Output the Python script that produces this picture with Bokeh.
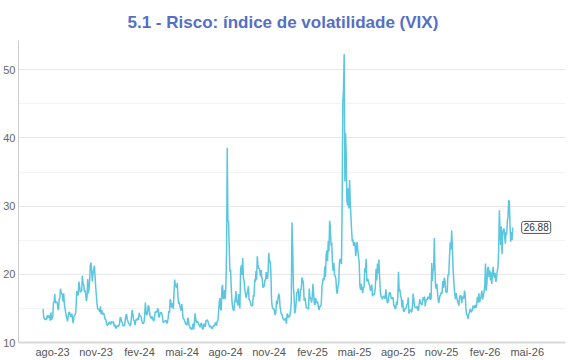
import pandas as pd
from bokeh.plotting import figure
from bokeh.models import Range1d, FixedTicker, SingleIntervalTicker, Label, ColumnDataSource
from bokeh.embed import file_html
from bokeh.resources import INLINE

title_text = "5.1 - Risco: índice de volatilidade (VIX)"
first_day = "2023-07-10"
last_day = "2026-03-31"

months = ["2023-07", "2023-08", "2023-09", "2023-10", "2023-11", "2023-12",
          "2024-01", "2024-02", "2024-03", "2024-04", "2024-05", "2024-06",
          "2024-07", "2024-08", "2024-09", "2024-10", "2024-11", "2024-12",
          "2025-01", "2025-02", "2025-03", "2025-04", "2025-05", "2025-06",
          "2025-07", "2025-08", "2025-09", "2025-10", "2025-11", "2025-12",
          "2026-01", "2026-02", "2026-03"]

vix_2023_07 = [14.84, 14.84, 13.54, 13.61, 13.34, 13.48, 13.30, 13.76, 13.99, 13.60, 13.91, 13.86, 13.19, 14.41, 13.33, 13.63]
vix_2023_08 = [13.93, 15.99, 15.92, 17.10, 15.77, 15.99, 15.96, 15.85, 14.84, 14.82, 16.46, 16.46, 17.89, 17.30, 17.13, 16.98, 15.98, 17.20, 15.68, 15.08, 14.45, 13.88, 13.57]
vix_2023_09 = [13.09, 14.00, 14.45, 14.40, 13.84, 13.80, 14.23, 13.48, 12.82, 13.79, 14.00, 14.11, 15.14, 17.54, 17.20, 16.90, 18.94, 18.22, 17.34, 17.52]
vix_2023_10 = [17.61, 19.78, 18.58, 18.49, 17.45, 17.70, 17.03, 16.09, 16.69, 19.32, 17.21, 17.88, 19.22, 21.40, 21.71, 20.37, 18.97, 20.19, 20.68, 21.27, 19.75, 18.14]
vix_2023_11 = [16.87, 15.66, 14.91, 14.89, 14.81, 14.45, 15.29, 14.17, 14.76, 14.16, 14.18, 14.32, 13.80, 13.41, 13.35, 12.85, 12.46, 12.69, 12.69, 12.98, 12.92]
vix_2023_12 = [12.63, 13.08, 12.85, 12.97, 13.06, 12.35, 12.63, 12.07, 12.19, 12.48, 12.28, 12.56, 12.53, 13.67, 13.65, 13.03, 12.99, 12.43, 12.47, 12.45]
vix_2024_01 = [13.20, 14.04, 14.13, 13.35, 13.08, 12.76, 12.69, 12.44, 12.70, 13.84, 14.79, 14.13, 13.30, 13.19, 12.55, 13.14, 13.45, 13.26, 13.60, 13.31, 14.35]
vix_2024_02 = [13.88, 13.85, 13.67, 13.06, 12.83, 12.79, 12.93, 13.93, 15.85, 14.38, 14.01, 14.24, 15.42, 15.34, 14.54, 13.75, 13.74, 13.43, 13.84, 13.40]
vix_2024_03 = [13.11, 13.49, 14.46, 14.50, 14.44, 14.74, 15.01, 13.75, 13.75, 14.40, 14.41, 14.33, 13.82, 12.92, 13.06, 13.06, 13.19, 13.24, 12.78, 13.01]
vix_2024_04 = [13.65, 14.61, 14.33, 16.35, 16.03, 15.19, 15.22, 15.80, 14.91, 17.31, 19.23, 18.40, 18.21, 18.00, 18.71, 16.94, 15.69, 15.97, 15.37, 15.03, 14.67, 15.65]
vix_2024_05 = [14.75, 13.49, 13.49, 13.23, 13.00, 12.69, 12.69, 12.55, 13.60, 13.42, 12.45, 12.42, 11.99, 12.15, 11.86, 12.29, 12.77, 11.93, 12.92, 14.28, 13.49, 12.92]
vix_2024_06 = [13.11, 13.06, 12.63, 12.58, 12.22, 12.74, 12.85, 12.04, 11.94, 12.66, 12.75, 12.30, 13.28, 13.20, 13.33, 12.84, 12.55, 12.24, 12.44]
vix_2024_07 = [12.22, 12.03, 12.09, 12.48, 12.37, 12.51, 12.85, 12.89, 12.46, 13.12, 13.19, 14.48, 15.93, 16.52, 14.91, 14.72, 18.04, 18.46, 16.39, 16.60, 17.69, 16.36]
vix_2024_08 = [18.59, 23.39, 38.57, 27.71, 27.85, 23.79, 20.37, 20.71, 18.12, 16.19, 15.23, 14.80, 14.65, 15.88, 16.27, 17.55, 15.86, 16.15, 15.43, 17.11, 15.65, 15.00]
vix_2024_09 = [20.72, 21.32, 19.90, 22.38, 19.45, 19.08, 17.69, 17.07, 16.56, 17.14, 17.61, 18.23, 16.33, 16.15, 15.89, 15.39, 15.41, 15.37, 16.96, 16.73]
vix_2024_10 = [19.26, 18.90, 20.49, 19.21, 22.64, 21.42, 20.86, 20.93, 20.46, 19.70, 20.64, 19.58, 19.11, 18.03, 18.37, 18.20, 19.24, 19.08, 20.33, 19.80, 19.34, 20.35, 23.16]
vix_2024_11 = [21.88, 21.98, 20.49, 16.27, 15.20, 14.94, 14.97, 14.71, 14.02, 14.31, 16.14, 15.58, 16.35, 17.16, 16.87, 15.24, 14.60, 14.10, 14.10, 13.51]
vix_2024_12 = [13.34, 13.30, 13.45, 13.54, 12.77, 14.19, 14.18, 13.58, 13.92, 13.81, 14.69, 15.87, 27.62, 24.09, 18.36, 16.78, 14.27, 14.73, 15.95, 17.40, 17.35]
vix_2025_01 = [17.93, 16.13, 16.04, 17.82, 17.70, 19.54, 19.19, 18.71, 16.12, 16.60, 15.97, 15.06, 15.10, 15.02, 14.85, 17.90, 16.41, 16.56, 15.84, 16.43]
vix_2025_02 = [18.62, 17.21, 15.77, 15.50, 16.54, 15.81, 16.02, 15.89, 15.10, 14.77, 15.35, 15.27, 15.66, 18.21, 18.98, 19.43, 19.10, 21.13, 19.63]
vix_2025_03 = [22.78, 23.51, 21.93, 24.87, 23.37, 27.86, 26.92, 24.23, 24.66, 21.77, 20.51, 21.70, 19.90, 19.80, 19.28, 17.48, 17.15, 18.33, 18.69, 21.65, 22.28]
vix_2025_04 = [21.77, 21.51, 30.02, 45.31, 46.98, 52.33, 33.62, 40.72, 37.56, 30.89, 30.12, 32.64, 29.65, 33.82, 30.57, 28.45, 26.47, 24.84, 25.15, 24.17, 24.70]
vix_2025_05 = [24.60, 22.68, 23.64, 24.76, 23.55, 22.48, 21.90, 18.39, 17.72, 18.62, 17.83, 17.24, 18.14, 18.09, 20.87, 20.28, 22.29, 18.96, 19.31, 19.18, 18.57]
vix_2025_06 = [18.36, 17.69, 17.61, 18.48, 16.77, 17.16, 16.95, 17.26, 18.02, 20.82, 19.11, 21.60, 20.14, 22.17, 19.83, 17.48, 16.76, 16.59, 16.32, 16.73]
vix_2025_07 = [16.83, 16.64, 16.38, 17.79, 16.81, 15.94, 15.78, 16.40, 17.20, 17.38, 17.16, 16.52, 16.41, 16.65, 16.50, 15.37, 15.39, 14.93, 15.03, 15.98, 15.48, 16.72]
vix_2025_08 = [20.38, 17.52, 17.85, 16.77, 16.57, 15.15, 16.25, 14.73, 14.49, 14.83, 15.09, 15.00, 15.57, 15.69, 16.60, 14.22, 14.79, 14.62, 14.85, 14.43, 15.36]
vix_2025_09 = [17.17, 16.35, 15.30, 15.18, 15.11, 15.04, 15.35, 14.71, 14.76, 15.69, 16.36, 15.72, 15.70, 15.45, 16.10, 16.64, 16.18, 16.74, 15.29, 16.12, 16.28]
vix_2025_10 = [16.29, 16.63, 16.65, 16.37, 17.24, 16.30, 16.43, 21.66, 19.03, 20.81, 20.64, 25.31, 20.78, 18.23, 17.87, 18.60, 17.30, 16.37, 15.79, 16.42, 16.92, 16.91, 17.44]
vix_2025_11 = [17.17, 19.00, 18.01, 19.50, 19.08, 17.60, 17.28, 17.51, 20.00, 19.83, 22.38, 24.69, 23.66, 26.42, 23.43, 20.52, 18.56, 17.19, 16.35]
vix_2025_12 = [17.24, 16.59, 16.08, 15.78, 15.41, 16.66, 16.93, 16.77, 15.77, 16.74, 16.50, 16.48, 17.62, 16.87, 14.91, 14.08, 14.00, 13.47, 14.20, 14.33, 14.95]
vix_2026_01 = [14.50, 14.50, 14.80, 15.40, 15.00, 15.20, 15.50, 15.10, 15.60, 16.70, 15.90, 17.20, 15.90, 16.40, 16.80, 17.60, 16.30, 16.90, 17.40, 18.10]
vix_2026_02 = [21.60, 17.60, 18.60, 20.80, 21.10, 19.60, 20.60, 19.10, 20.30, 18.60, 19.80, 21.10, 20.00, 19.50, 20.20, 18.90, 19.60, 20.50, 21.10]
vix_2026_03 = [23.80, 29.40, 26.50, 24.30, 27.00, 23.00, 26.00, 26.50, 26.70, 25.50, 24.50, 26.20, 25.80, 27.80, 28.50, 30.90, 30.60, 27.00, 24.80, 26.20, 25.00, 26.88]

month_values = [vix_2023_07, vix_2023_08, vix_2023_09, vix_2023_10, vix_2023_11, vix_2023_12,
                vix_2024_01, vix_2024_02, vix_2024_03, vix_2024_04, vix_2024_05, vix_2024_06,
                vix_2024_07, vix_2024_08, vix_2024_09, vix_2024_10, vix_2024_11, vix_2024_12,
                vix_2025_01, vix_2025_02, vix_2025_03, vix_2025_04, vix_2025_05, vix_2025_06,
                vix_2025_07, vix_2025_08, vix_2025_09, vix_2025_10, vix_2025_11, vix_2025_12,
                vix_2026_01, vix_2026_02, vix_2026_03]

tick_dates = ["2023-08-01", "2023-11-01", "2024-02-01", "2024-05-01", "2024-08-01", "2024-11-01",
              "2025-02-01", "2025-05-01", "2025-08-01", "2025-11-01", "2026-02-01", "2026-05-01"]
tick_labels = ["ago-23", "nov-23", "fev-24", "mai-24", "ago-24", "nov-24",
               "fev-25", "mai-25", "ago-25", "nov-25", "fev-26", "mai-26"]

dates, vals = [], []
for m, mv in zip(months, month_values):
    s = pd.Timestamp(m + "-01")
    e = s + pd.offsets.MonthBegin(1)
    s = max(s, pd.Timestamp(first_day))
    e = min(e, pd.Timestamp(last_day) + pd.Timedelta(days=1))
    span = e - s
    n = len(mv)
    for i, v in enumerate(mv):
        dates.append(s + span * ((i + 0.5) / n))
        vals.append(v)

src = ColumnDataSource(dict(date=dates, vix=vals))

def ms(d):
    return float(pd.Timestamp(d).timestamp() * 1000)

FONT = "Liberation Sans"

p = figure(width=570, height=360, x_axis_type="datetime", output_backend="svg",
           toolbar_location=None,
           x_range=Range1d(ms("2023-05-21"), ms("2026-07-21")),
           y_range=Range1d(10, 54.3),
           min_border_left=0, min_border_right=5, min_border_top=40, min_border_bottom=0)
p.outline_line_color = None
p.background_fill_color = "white"
p.border_fill_color = "white"

p.title.text = title_text
p.title.align = "left"
p.title.offset = 109
p.title.text_font = FONT
p.title.text_font_size = "17px"
p.title.text_font_style = "bold"
p.title.text_color = "#5470c6"
p.title.standoff = 18

p.line(x="date", y="vix", source=src, line_color="#5bc6e0", line_width=1.5)

yt = SingleIntervalTicker(interval=10, num_minor_ticks=2)
p.yaxis.ticker = yt
p.ygrid.ticker = yt
p.ygrid.grid_line_color = "#e8e8e8"
p.ygrid.minor_grid_line_color = "#f3f3f3"
p.xgrid.grid_line_color = None

p.yaxis.axis_line_color = "#cccccc"
p.yaxis.major_tick_out = 0
p.yaxis.major_tick_in = 0
p.yaxis.minor_tick_out = 0
p.yaxis.minor_tick_in = 0
p.yaxis.major_label_text_font = FONT
p.yaxis.major_label_text_font_size = "11px"
p.yaxis.major_label_text_color = "#666666"
p.yaxis.major_label_standoff = 3

p.xaxis.ticker = FixedTicker(ticks=[ms(d) for d in tick_dates])
p.xaxis.major_label_overrides = {ms(d): lab for d, lab in zip(tick_dates, tick_labels)}
p.xaxis.axis_line_color = "#d9d9d9"
p.xaxis.axis_line_width = 2
p.xaxis.major_tick_out = 0
p.xaxis.major_tick_in = 0
p.xaxis.minor_tick_out = 0
p.xaxis.minor_tick_in = 0
p.xaxis.major_label_text_font = FONT
p.xaxis.major_label_text_font_size = "11px"
p.xaxis.major_label_text_color = "#555555"
p.xaxis.major_label_standoff = 3

last_label = Label(x=ms(dates[-1]), y=vals[-1], text=f"{vals[-1]:.2f}", x_offset=9,
                   text_baseline="middle", text_align="left",
                   text_font=FONT, text_font_size="10px", text_color="#333333",
                   border_line_color="#555555", border_line_width=1,
                   background_fill_color="white", padding=2, border_radius=2)
p.add_layout(last_label)

open("out.html", "w").write(file_html(p, INLINE))
